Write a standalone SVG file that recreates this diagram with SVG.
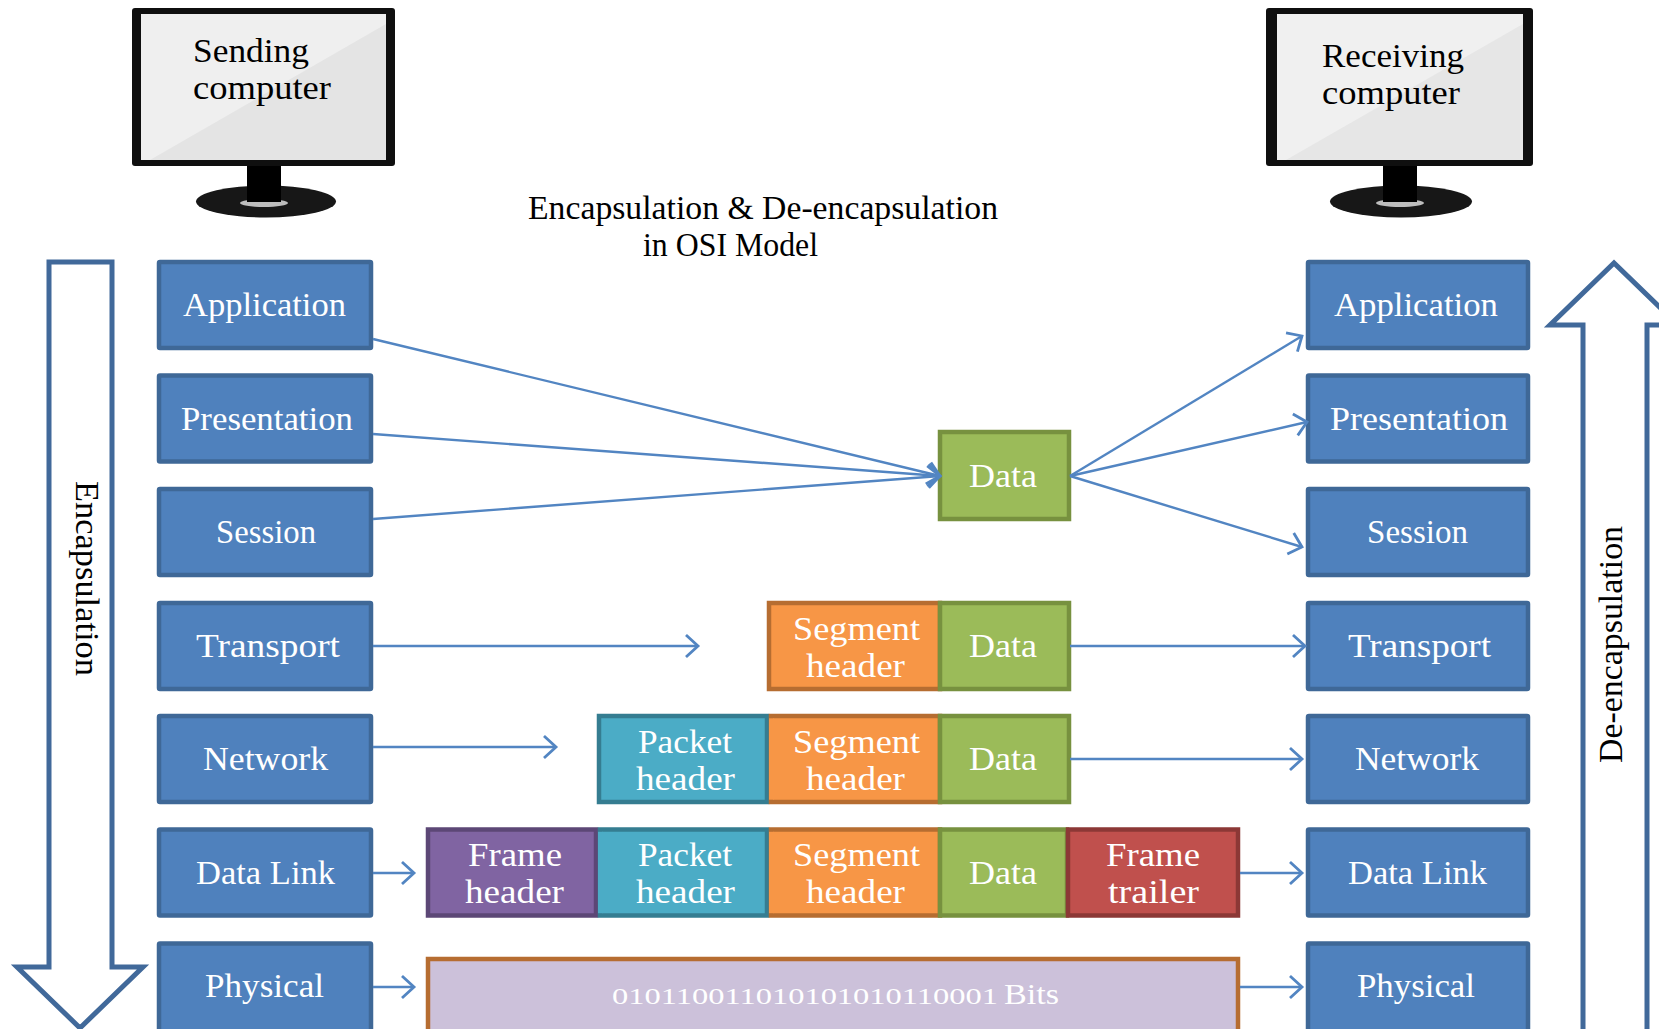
<svg xmlns="http://www.w3.org/2000/svg" width="1659" height="1029" viewBox="0 0 1659 1029">
<style>
text{font-family:"Liberation Serif","Times New Roman",serif;font-size:33px;fill:#fff}
text.k{fill:#000}
.osi{fill:#4f81bd;stroke:#3f6897;stroke-width:4.5}
.data{fill:#9bbb59;stroke:#77913f;stroke-width:4.5}
.seg{fill:#f79646;stroke:#b66d31;stroke-width:4.5}
.pkt{fill:#4bacc6;stroke:#357d91;stroke-width:4.5}
.frh{fill:#8064a2;stroke:#5c4776;stroke-width:4.5}
.frt{fill:#c0504d;stroke:#8c3836;stroke-width:4.5}
.bits{fill:#ccc1da;stroke:#b66d31;stroke-width:4.5}
.segf{fill:#f79646}
.pktf{fill:#4bacc6}
.big{fill:#fff;stroke:#41699a;stroke-width:5}
.con{stroke:#5285c2;stroke-width:2.4;fill:none;marker-end:url(#open)}
</style>
<defs>
<marker id="open" markerUnits="userSpaceOnUse" markerWidth="28" markerHeight="32" refX="23" refY="16" orient="auto"><path d="M11 5L23 16L11 27" fill="none" stroke="#5285c2" stroke-width="2.8"/></marker>
</defs>

<g id="sending-computer">
<rect x="132" y="8" width="263" height="158" rx="3" fill="#0f0f0f"/>
<rect x="141" y="14" width="245" height="146" fill="#e4e4e4"/>
<polygon points="141,14 386,14 386,24 150,160 141,160" fill="#efefef"/>
<ellipse cx="266" cy="201.500" rx="70" ry="16" fill="#171717"/>
<ellipse cx="264" cy="203" rx="24" ry="4" fill="#bdbdbd"/>
<rect x="247" y="166" width="34" height="36" fill="#000"/>
<text class="k" x="193" y="62" textLength="116" lengthAdjust="spacingAndGlyphs">Sending</text>
<text class="k" x="193" y="99" textLength="138" lengthAdjust="spacingAndGlyphs">computer</text>
</g>
<g id="receiving-computer">
<rect x="1266" y="8" width="267" height="158" rx="3" fill="#0f0f0f"/>
<rect x="1277" y="14" width="246" height="146" fill="#e6e6e6"/>
<polygon points="1277,14 1523,14 1523,24 1286,160 1277,160" fill="#f0f0f0"/>
<ellipse cx="1401" cy="201.500" rx="71" ry="16" fill="#171717"/>
<ellipse cx="1400" cy="203" rx="24" ry="4" fill="#bdbdbd"/>
<rect x="1383" y="166" width="34" height="36" fill="#000"/>
<text class="k" x="1322" y="67" textLength="142" lengthAdjust="spacingAndGlyphs">Receiving</text>
<text class="k" x="1322" y="104" textLength="138" lengthAdjust="spacingAndGlyphs">computer</text>
</g>
<g id="title">
<text class="k" x="528" y="219" textLength="470" lengthAdjust="spacingAndGlyphs">Encapsulation &amp; De-encapsulation</text>
<text class="k" x="643" y="256" textLength="175" lengthAdjust="spacingAndGlyphs">in OSI Model</text>
</g>

<g id="encapsulation-arrow">
<path class="big" d="M49 262H112V967H143L80 1028L17 967H49Z"/>
<text class="k" transform="translate(76 481) rotate(90)" textLength="195" lengthAdjust="spacingAndGlyphs">Encapsulation</text>
</g>
<g id="de-encapsulation-arrow">
<path class="big" d="M1583 1032V325H1550L1614 263L1678 325H1647V1032"/>
<text class="k" transform="translate(1622 763) rotate(-90)" textLength="237" lengthAdjust="spacingAndGlyphs">De-encapsulation</text>
</g>

<g id="send-application"><rect class="osi" x="159" y="262" width="212" height="86" rx="1"/><text x="183" y="316" textLength="163" lengthAdjust="spacingAndGlyphs">Application</text></g>
<g id="send-presentation"><rect class="osi" x="159" y="375.500" width="212" height="86" rx="1"/><text x="181" y="430" textLength="172" lengthAdjust="spacingAndGlyphs">Presentation</text></g>
<g id="send-session"><rect class="osi" x="159" y="489" width="212" height="86" rx="1"/><text x="216" y="543" textLength="100" lengthAdjust="spacingAndGlyphs">Session</text></g>
<g id="send-transport"><rect class="osi" x="159" y="603" width="212" height="86" rx="1"/><text x="196" y="657" textLength="144" lengthAdjust="spacingAndGlyphs">Transport</text></g>
<g id="send-network"><rect class="osi" x="159" y="716" width="212" height="86" rx="1"/><text x="203" y="770" textLength="125" lengthAdjust="spacingAndGlyphs">Network</text></g>
<g id="send-datalink"><rect class="osi" x="159" y="829.500" width="212" height="86" rx="1"/><text x="196" y="884" textLength="139" lengthAdjust="spacingAndGlyphs">Data Link</text></g>
<g id="send-physical"><rect class="osi" x="159" y="943.500" width="212" height="90" rx="1"/><text x="205" y="997" textLength="119" lengthAdjust="spacingAndGlyphs">Physical</text></g>

<g id="recv-application"><rect class="osi" x="1308" y="262" width="220" height="86" rx="1"/><text x="1334" y="316" textLength="164" lengthAdjust="spacingAndGlyphs">Application</text></g>
<g id="recv-presentation"><rect class="osi" x="1308" y="375.500" width="220" height="86" rx="1"/><text x="1330" y="430" textLength="178" lengthAdjust="spacingAndGlyphs">Presentation</text></g>
<g id="recv-session"><rect class="osi" x="1308" y="489" width="220" height="86" rx="1"/><text x="1367" y="543" textLength="101" lengthAdjust="spacingAndGlyphs">Session</text></g>
<g id="recv-transport"><rect class="osi" x="1308" y="603" width="220" height="86" rx="1"/><text x="1348" y="657" textLength="143" lengthAdjust="spacingAndGlyphs">Transport</text></g>
<g id="recv-network"><rect class="osi" x="1308" y="716" width="220" height="86" rx="1"/><text x="1355" y="770" textLength="124" lengthAdjust="spacingAndGlyphs">Network</text></g>
<g id="recv-datalink"><rect class="osi" x="1308" y="829.500" width="220" height="86" rx="1"/><text x="1348" y="884" textLength="139" lengthAdjust="spacingAndGlyphs">Data Link</text></g>
<g id="recv-physical"><rect class="osi" x="1308" y="943.500" width="220" height="90" rx="1"/><text x="1357" y="997" textLength="118" lengthAdjust="spacingAndGlyphs">Physical</text></g>

<g id="row-session-data"><rect class="data" x="940" y="432" width="129" height="87"/><text x="969" y="487" textLength="68" lengthAdjust="spacingAndGlyphs">Data</text></g>

<g id="row-transport">
<rect class="seg" x="769" y="603" width="171" height="86"/>
<rect class="data" x="940" y="603" width="129" height="86"/>
<text x="793" y="640" textLength="127" lengthAdjust="spacingAndGlyphs">Segment</text>
<text x="806" y="677" textLength="99" lengthAdjust="spacingAndGlyphs">header</text>
<text x="969" y="657" textLength="68" lengthAdjust="spacingAndGlyphs">Data</text>
</g>
<g id="row-network">
<rect class="pkt" x="599" y="716" width="168" height="86"/>
<rect class="seg" x="771" y="716" width="169" height="86"/>
<rect class="segf" x="769" y="718.300" width="5" height="81.400"/>
<rect class="data" x="940" y="716" width="129" height="86"/>
<text x="638" y="753" textLength="94" lengthAdjust="spacingAndGlyphs">Packet</text>
<text x="636" y="790" textLength="99" lengthAdjust="spacingAndGlyphs">header</text>
<text x="793" y="753" textLength="127" lengthAdjust="spacingAndGlyphs">Segment</text>
<text x="806" y="790" textLength="99" lengthAdjust="spacingAndGlyphs">header</text>
<text x="969" y="770" textLength="68" lengthAdjust="spacingAndGlyphs">Data</text>
</g>
<g id="row-datalink">
<rect class="frh" x="428" y="829.500" width="168" height="86"/>
<rect class="pkt" x="600" y="829.500" width="167" height="86"/>
<rect class="pktf" x="598" y="831.800" width="5" height="81.400"/>
<rect class="seg" x="771" y="829.500" width="169" height="86"/>
<rect class="segf" x="769" y="831.800" width="5" height="81.400"/>
<rect class="data" x="940" y="829.500" width="127" height="86"/>
<rect class="frt" x="1068" y="829.500" width="170" height="86"/>
<text x="468" y="866" textLength="94" lengthAdjust="spacingAndGlyphs">Frame</text>
<text x="465" y="903" textLength="99" lengthAdjust="spacingAndGlyphs">header</text>
<text x="638" y="866" textLength="94" lengthAdjust="spacingAndGlyphs">Packet</text>
<text x="636" y="903" textLength="99" lengthAdjust="spacingAndGlyphs">header</text>
<text x="793" y="866" textLength="127" lengthAdjust="spacingAndGlyphs">Segment</text>
<text x="806" y="903" textLength="99" lengthAdjust="spacingAndGlyphs">header</text>
<text x="969" y="884" textLength="68" lengthAdjust="spacingAndGlyphs">Data</text>
<text x="1106" y="866" textLength="94" lengthAdjust="spacingAndGlyphs">Frame</text>
<text x="1108" y="903" textLength="91" lengthAdjust="spacingAndGlyphs">trailer</text>
</g>
<g id="row-physical">
<rect class="bits" x="428" y="959" width="810" height="76"/>
<text x="612" y="1004" style="font-size:24px" textLength="386" lengthAdjust="spacingAndGlyphs">010110011010101010110001</text>
<text x="1004" y="1004" style="font-size:30px" textLength="55" lengthAdjust="spacingAndGlyphs">Bits</text>
</g>

<g id="connectors">
<path class="con" d="M373 339L940 476"/>
<path class="con" d="M373 434L940 476"/>
<path class="con" d="M373 519L940 476"/>
<path class="con" d="M1070 476L1302 336"/>
<path class="con" d="M1070 476L1307 422"/>
<path class="con" d="M1070 476L1302 547"/>
<path class="con" d="M373 646H698"/>
<path class="con" d="M1070 646H1305"/>
<path class="con" d="M373 747H556"/>
<path class="con" d="M1070 759H1302"/>
<path class="con" d="M373 873H414"/>
<path class="con" d="M1240 873H1302"/>
<path class="con" d="M373 987H414"/>
<path class="con" d="M1240 987H1302"/>
</g>
</svg>
